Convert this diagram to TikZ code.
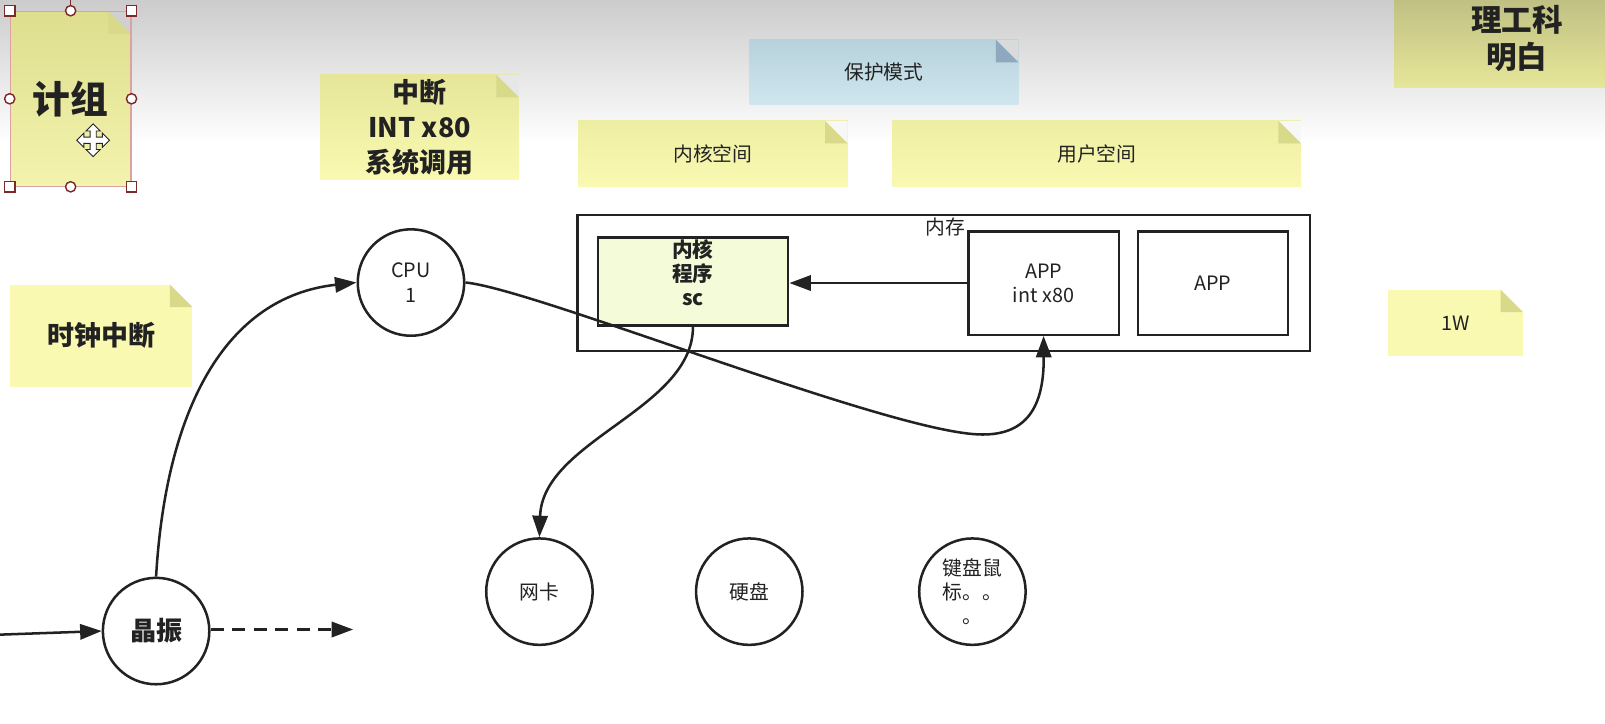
\documentclass[tikz,border=0pt]{standalone}
\usepackage{fontspec}
\setmainfont{Noto Sans CJK SC}
\usetikzlibrary{arrows.meta}
\definecolor{ink}{HTML}{222222}
\definecolor{notey}{HTML}{F9F9B2}
\definecolor{noteytop}{HTML}{E6E699}
\definecolor{notefold}{HTML}{D9D98A}
\definecolor{selnote}{HTML}{F3F3AE}
\definecolor{selnotetop}{HTML}{DEDE8E}
\definecolor{selc}{HTML}{D9A3A3}
\definecolor{handlec}{HTML}{7A2A2A}
\definecolor{bluen}{HTML}{CFE6EE}
\definecolor{bluentop}{HTML}{B7D2DC}
\definecolor{bluefold}{HTML}{8EA8C0}
\definecolor{kfill}{HTML}{F3FBD8}
\def\notebg{white}
\def\foldc{notefold}
\begin{document}
\begin{tikzpicture}[x=0.02cm, y=-0.02cm,
  every node/.style={text=ink},
  fold bg/.code={\def\notebg{#1}},
  fold color/.code={\def\foldc{#1}},
  note/.style={rectangle, inner sep=0pt, align=center, fill=notey,
    font=\fontsize{11}{13.5}\selectfont,
    path picture={
      \fill[\notebg] (path picture bounding box.north east) -- ++(-0.44cm,0) -- ++(0.44cm,-0.44cm) -- cycle;
      \fill[\foldc] ([xshift=-0.44cm]path picture bounding box.north east) -- ++(0,-0.44cm) -- ++(0.44cm,0) -- cycle;}},
  box/.style={rectangle, draw=ink, line width=1.4pt, inner sep=0pt, align=center,
    font=\fontsize{11}{13.5}\selectfont},
  dev/.style={circle, draw=ink, line width=1.4pt, minimum size=2.08cm, inner sep=0pt,
    align=center, fill=white, font=\fontsize{11}{13.5}\selectfont},
  hsq/.style={rectangle, draw=handlec, fill=white, line width=0.8pt, minimum size=0.2cm, inner sep=0pt},
  hci/.style={circle, draw=handlec, fill=white, line width=0.8pt, minimum size=0.2cm, inner sep=0pt},
  arr/.style={draw=ink, line width=1.4pt, -{Triangle[length=0.42cm,width=0.3cm]}}
]
% background
\fill[white] (0,0) rectangle (1568,707);
\shade[top color=gray!40, bottom color=white] (0,0) rectangle (1568,140);
\useasboundingbox (0,0) rectangle (1568,707);

% sticky notes
\node[note, fold bg=gray!37, top color=selnotetop, bottom color=selnote, draw=selc, line width=0.6pt,
  minimum width=2.36cm, minimum height=3.42cm, font=\fontsize{21}{24}\selectfont\bfseries] (jizu) at (69,96.5) {计组};
\node[note, fold bg=gray!19, top color=noteytop, bottom color=notey, minimum width=3.88cm, minimum height=2.04cm,
  font=\fontsize{15}{19.5}\selectfont\bfseries] (intr) at (410,124) {中断\\INT x80\\系统调用};
\node[note, minimum width=3.56cm, minimum height=2cm, font=\fontsize{15}{18}\selectfont\bfseries] (clock) at (99,328) {时钟中断};
\node[note, fold bg=gray!29, fold color=bluefold, top color=bluentop, bottom color=bluen,
  minimum width=5.26cm, minimum height=1.26cm] (prot) at (863.5,70.5) {保护模式};
\node[note, fold bg=gray!6, top color=noteytop!60!notey, bottom color=notey, minimum width=5.26cm, minimum height=1.28cm] (kspace) at (696.5,150) {内核空间};
\node[note, fold bg=gray!6, top color=noteytop!60!notey, bottom color=notey, minimum width=7.98cm, minimum height=1.28cm] (uspace) at (1071.5,150) {用户空间};
\node[note, fold bg=gray!40, top color=noteytop!80!black!95, bottom color=noteytop, minimum width=4.8cm, minimum height=1.9cm,
  font=\fontsize{17}{21}\selectfont\bfseries] (ligong) at (1482,37.5) {理工科\\明白};
\node[note, minimum width=2.64cm, minimum height=1.3cm] (onew) at (1422,315.5) {1W};

% selection handles
\draw[handlec, line width=0.8pt] (jizu.north) -- ++(0,0.3cm);
\foreach \a in {north west, north east, south west, south east}
  \node[hsq] at (jizu.\a) {};
\foreach \a in {north, south, east, west}
  \node[hci] at (jizu.\a) {};
\draw[ink, fill=white, line width=0.5pt, shift={(91,137)}]
  (0,-16) -- (7,-9) -- (3,-9) -- (3,-3) -- (9,-3) -- (9,-7) -- (16,0) -- (9,7) -- (9,3) -- (3,3)
  -- (3,9) -- (7,9) -- (0,16) -- (-7,9) -- (-3,9) -- (-3,3) -- (-9,3) -- (-9,7) -- (-16,0)
  -- (-9,-7) -- (-9,-3) -- (-3,-3) -- (-3,-9) -- (-7,-9) -- cycle;

% memory
\node[box, minimum width=14.32cm, minimum height=2.66cm] (mem) at (922,276.5) {};
\node[box, fill=kfill, minimum width=3.72cm, minimum height=1.72cm,
  label={[align=center, yshift=0.18cm, font=\fontsize{11.5}{13.3}\selectfont\bfseries]center:内核\\程序\\sc}] (kern) at (677,275) {};
\node[box, line width=1.3pt, minimum width=2.94cm, minimum height=2.02cm] (app1) at (1019.5,276.5) {APP\\int x80};
\node[box, line width=1.3pt, minimum width=2.94cm, minimum height=2.02cm] (app2) at (1185,276.5) {APP};
\node[anchor=east, inner sep=0pt, font=\fontsize{11}{13.5}\selectfont] (memlbl) at (943,222) {内存};

% devices
\node[dev] (cpu) at (401.5,276) {CPU\\1};
\node[dev, font=\fontsize{14.5}{17}\selectfont\bfseries] (jz) at (152.5,616.5) {晶振};
\node[dev] (nic) at (527,578) {网卡};
\node[dev] (disk) at (732,578) {硬盘};
\node[dev] (kbd) at (950,578) {键盘鼠\\标。。\\。};

% connectors
\coordinate (inL) at (0,620);
\coordinate (dashend) at (345,615);
\draw[arr] (inL) -- (jz.west);
\draw[arr, dash pattern=on 0.26cm off 0.16cm] (jz.east |- dashend) -- (dashend);
\draw[arr] (jz.north) .. controls (162,400) and (220,290) .. (cpu.west);
\draw[arr] (cpu.east) .. controls (520,282) and (850,415) .. (950,424)
  .. controls (1005,429) and (1020,395) .. (app1.south);
\draw[arr] (app1.west) -- (kern.east |- app1.west);
\draw[arr] (kern.south) .. controls (677,400) and (530,430) .. (nic.north);
\end{tikzpicture}
\end{document}
